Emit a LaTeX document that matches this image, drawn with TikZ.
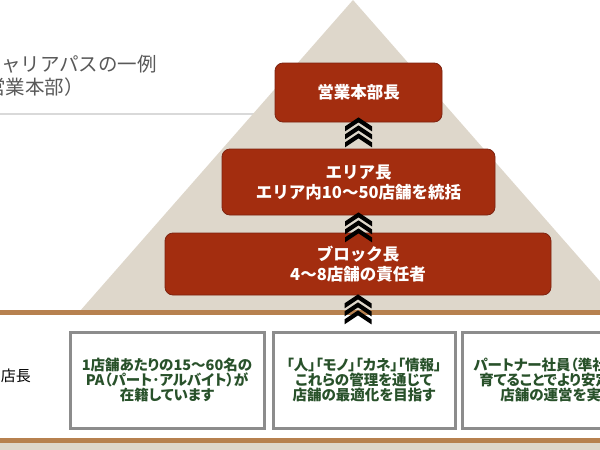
\documentclass[tikz,border=0pt]{standalone}
\usepackage{fontspec}
\setmainfont{Noto Sans CJK JP}
\newfontfamily\jpalt{Noto Sans CJK JP}[RawFeature=+palt]
\definecolor{pyr}{HTML}{DED7CB}
\definecolor{rust}{HTML}{A32D0F}
\definecolor{rustd}{HTML}{7E2411}
\definecolor{band}{HTML}{B7814F}
\definecolor{grn}{HTML}{28512A}
\definecolor{ttl}{HTML}{595959}
\definecolor{bord}{HTML}{8C8C8C}
\definecolor{rule}{HTML}{D9D9D9}
\tikzset{
  rbox/.style={rounded corners=8pt, fill=rust, draw=rustd, line width=0.8pt,
    text=white, font=\bfseries\fontsize{16.5}{20}\selectfont, align=center, inner sep=0pt},
  wbox/.style={draw=bord, line width=3pt, fill=white, text=grn,
    font=\jpalt\bfseries\fontsize{14.5}{15}\selectfont, align=center, inner sep=0pt,
    minimum height=96pt},
  chev/.pic={
    \foreach \k in {0,1,2}
      \fill[black] (-13.5,9+8*\k) -- (0,8*\k) -- (13.5,9+8*\k) -- (13.5,14+8*\k)
        -- (0,5+8*\k) -- (-13.5,14+8*\k) -- cycle;
  }
}
\begin{document}
\begin{tikzpicture}[x=1pt,y=-1pt]
\useasboundingbox (0,0) rectangle (600,450);
\clip (0,0) rectangle (600,450);
\fill[white] (0,0) rectangle (600,450);
% title
\node[anchor=base east, text=ttl, font=\fontsize{19.5}{24}\selectfont, inner sep=0pt] (t1) at (157,71) {キャリアパスの一例};
\node[anchor=base east, text=ttl, font=\fontsize{19.5}{24}\selectfont, inner sep=0pt] (t2) at (84,94) {（営業本部）};
\draw[rule, line width=2pt] (0,114) -- (300,114);
% pyramid and bands
\fill[pyr] (80,311) -- (353,0) -- (626,311) -- cycle;
\fill[band] (0,310) rectangle (600,315);
\fill[band] (0,438) rectangle (600,443);
\fill[pyr] (0,443) rectangle (600,450);
% red boxes
\node[rbox, minimum width=167pt, minimum height=59pt] (hq) at (358.5,92.5) {営業本部長};
\node[rbox, minimum width=273pt, minimum height=66pt] (area) at (358.5,182) {エリア長\\エリア内10～50店舗を統括};
\node[rbox, minimum width=386pt, minimum height=62pt] (block) at (358,264) {ブロック長\\4～8店舗の責任者};
% chevrons
\pic at ([yshift=5pt]hq.south) {chev};
\pic at ([yshift=3pt]area.south) {chev};
\pic at ([yshift=1pt]block.south) {chev};
% store manager row
\node[anchor=east, font=\fontsize{15}{18}\selectfont, inner sep=0pt] (mgr) at (31,376) {店長};
\node[wbox, minimum width=194pt] (b1) at (167,380) {1店舗あたりの15～60名の\\PA（パート･アルバイト）が\\在籍しています};
\node[wbox, minimum width=182pt] (b2) at (364,380) {「人」「モノ」「カネ」「情報」\\これらの管理を通じて\\店舗の最適化を目指す};
\node[wbox, minimum width=192pt] (b3) at (558,380) {パートナー社員（準社員）を\\育てることでより安定した\\店舗の運営を実現};
\end{tikzpicture}
\end{document}
